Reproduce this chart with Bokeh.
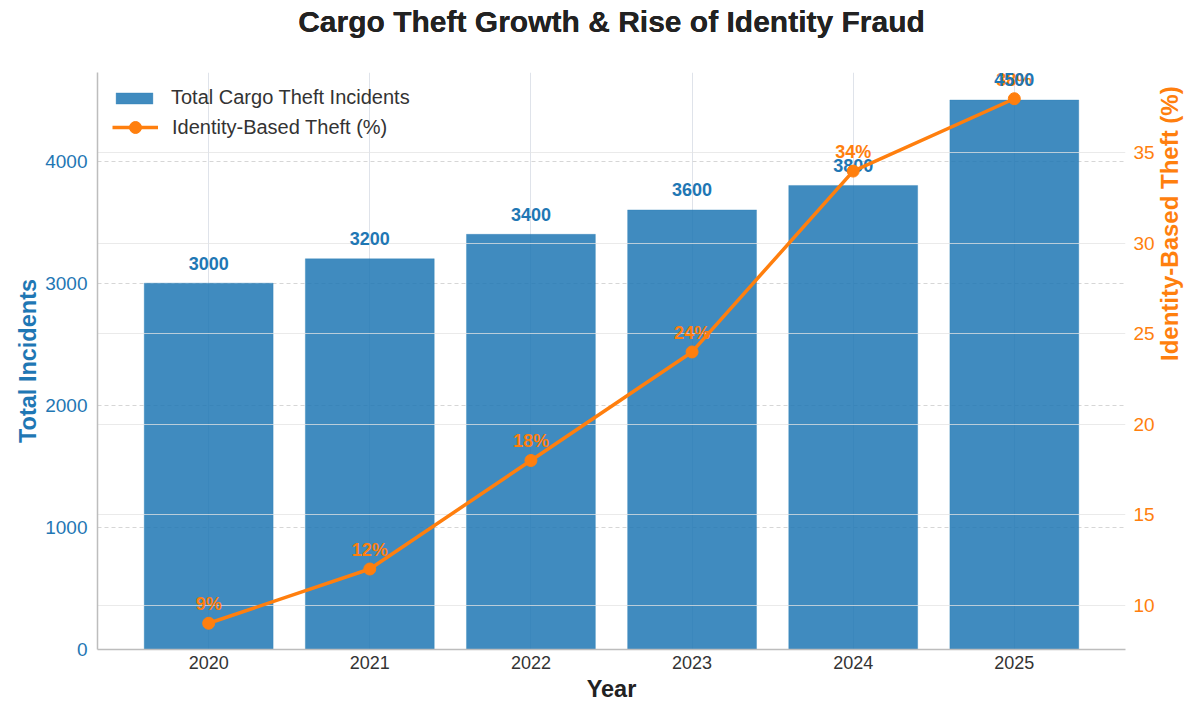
import math
from bokeh.plotting import figure
from bokeh.models import (Range1d, LinearAxis, Grid, FixedTicker, Legend,
                          LegendItem, ColumnDataSource, Title)
from bokeh.core.properties import value
from bokeh.embed import file_html
from bokeh.resources import INLINE

# ---- data ----
years = ["2020", "2021", "2022", "2023", "2024", "2025"]
incidents = [3000, 3200, 3400, 3600, 3800, 4500]
identity_pct = [9, 12, 18, 24, 34, 38]
left_ticks = [0, 1000, 2000, 3000, 4000]
right_ticks = [10, 15, 20, 25, 30, 35]
title_text = "Cargo Theft Growth & Rise of Identity Fraud"

BLUE = "#1f77b4"
ORANGE = "#ff7f0e"
FONT = "Liberation Sans"

W, H = 1200, 704
BT, BB = 72, 55

xs = list(range(len(years)))
src = ColumnDataSource(dict(
    x=xs, inc=incidents, pct=identity_pct,
    inc_lbl=[str(v) for v in incidents],
    pct_lbl=[f"{v}%" for v in identity_pct],
))

p = figure(width=W, height=H, output_backend="svg", toolbar_location=None,
           x_range=Range1d(-0.69, 5.69), y_range=Range1d(0, 4725),
           min_border_left=97, min_border_right=75, min_border_top=BT,
           min_border_bottom=BB)
p.extra_y_ranges = {"pct": Range1d(7.55, 39.45)}
p.outline_line_color = None
p.background_fill_color = "white"
p.border_fill_color = "white"

# title (with a blank spacer panel between it and the frame)
p.title.text = title_text
p.title.align = "center"
p.title.text_font = FONT
p.title.text_font_size = "30px"
p.title.text_font_style = "bold"
p.title.text_color = "#222222"
p.title.standoff = 0
spacer = Title(text=" ", text_font_size="13px", standoff=0, text_alpha=0)
p.above = [spacer, p.title]

# x axis
p.xaxis.ticker = FixedTicker(ticks=xs)
p.xaxis.major_label_overrides = {i: y for i, y in zip(xs, years)}
p.xaxis.axis_label = "Year"

# left axis
p.yaxis.ticker = FixedTicker(ticks=left_ticks)
p.yaxis.axis_label = "Total Incidents"

for ax in (p.xaxis[0], p.yaxis[0]):
    ax.axis_line_color = "#bdbdbd"
    ax.axis_line_width = 1.5
    ax.major_tick_line_color = None
    ax.minor_tick_line_color = None
    ax.major_tick_out = 0
    ax.major_tick_in = 0
    ax.minor_tick_out = 0
    ax.minor_tick_in = 0
    ax.major_label_text_font = FONT
    ax.axis_label_text_font = FONT
    ax.axis_label_text_font_size = "23.5px"
    ax.axis_label_text_font_style = "bold"

p.xaxis.major_label_text_font_size = "18px"
p.yaxis.major_label_text_font_size = "19px"
p.xaxis.major_label_text_color = "#333333"
p.xaxis.axis_label_text_color = "#222222"
p.xaxis.major_label_standoff = 6
p.xaxis.axis_label_standoff = 4
p.yaxis.major_label_text_color = BLUE
p.yaxis.axis_label_text_color = BLUE
p.yaxis.major_label_standoff = 10
p.yaxis.axis_label_standoff = 1

# right axis
rax = LinearAxis(y_range_name="pct", ticker=FixedTicker(ticks=right_ticks),
                 axis_label="Identity-Based Theft (%)")
rax.axis_line_color = None
rax.major_tick_line_color = None
rax.minor_tick_line_color = None
rax.major_tick_out = 0
rax.major_tick_in = 0
rax.minor_tick_out = 0
rax.minor_tick_in = 0
rax.major_label_text_font = FONT
rax.major_label_text_font_size = "19px"
rax.major_label_text_color = ORANGE
rax.major_label_standoff = 8
rax.axis_label_text_font = FONT
rax.axis_label_text_font_size = "24px"
rax.axis_label_text_font_style = "bold"
rax.axis_label_text_color = ORANGE
rax.axis_label_standoff = 12
rax.axis_label_orientation = math.pi / 2
p.add_layout(rax, "right")

# grids
p.xgrid.grid_line_color = "#dfe3ea"
p.xgrid.grid_line_width = 1
p.ygrid.grid_line_color = "#d6d6d6"
p.ygrid.grid_line_dash = "4 3"
p.ygrid.grid_line_width = 1

# bars
bars = p.vbar(x="x", top="inc", width=0.8, source=src, fill_color=BLUE,
              fill_alpha=0.85, line_color=BLUE, line_alpha=0.3)

# right-axis grid drawn over the bars
rgrid = Grid(dimension=1, y_range_name="pct",
             ticker=FixedTicker(ticks=right_ticks), grid_line_color="#e3e3e3",
             grid_line_alpha=0.75, grid_line_width=1.2, level="glyph")
p.renderers.append(rgrid)

# percentage labels
p.text(x="x", y="pct", text="pct_lbl", source=src, y_range_name="pct",
       text_align="center", text_baseline="alphabetic", y_offset=-19,
       text_font=value(FONT), text_font_style="bold", text_font_size="18px",
       text_color=ORANGE)

# bar labels
p.text(x="x", y="inc", text="inc_lbl", source=src, text_align="center",
       text_baseline="alphabetic", y_offset=-20, text_font=value(FONT),
       text_font_style="bold", text_font_size="18px", text_color=BLUE)

# line + markers
line = p.line(x="x", y="pct", source=src, y_range_name="pct",
              line_color=ORANGE, line_width=3.5)
pts = p.scatter(x="x", y="pct", source=src, y_range_name="pct", size=12,
                fill_color=ORANGE, line_color=ORANGE)


def style_legend(lg):
    lg.border_line_color = None
    lg.background_fill_alpha = 0
    lg.label_text_font = FONT
    lg.label_text_font_size = "20px"
    lg.label_text_color = "#333333"
    lg.glyph_width = 46
    lg.label_height = 22
    lg.label_standoff = 14


legend1 = Legend(items=[
    LegendItem(label="Total Cargo Theft Incidents", renderers=[bars]),
], location="top_left")
style_legend(legend1)
legend1.glyph_height = 14
legend1.margin = 14
legend1.padding = 6
p.add_layout(legend1)

FRAME_H = H - BT - BB
legend2 = Legend(items=[
    LegendItem(label="Identity-Based Theft (%)", renderers=[line, pts]),
], location=(15, FRAME_H - 55 - 15))
style_legend(legend2)
legend2.glyph_height = 30
legend2.margin = 0
legend2.padding = 0
p.add_layout(legend2)

open("out.html", "w").write(file_html(p, INLINE))
